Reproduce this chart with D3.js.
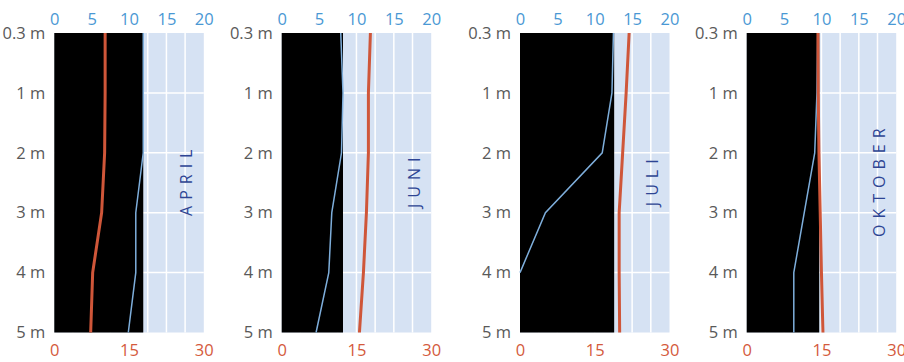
<!DOCTYPE html>
<html>
<head>
<meta charset="utf-8">
<script src="https://cdn.jsdelivr.net/npm/d3@7"></script>
<style>
    body { margin: 0; background: #fff; }
    svg { display: block; }
</style>
</head>
<body>
<div id="chart"></div>
<script>
// Depth categories (y axis) and month panels
const depths = ["0.3 m", "1 m", "2 m", "3 m", "4 m", "5 m"];
const months = ["APRIL", "JUNI", "JULI", "OKTOBER"];

// Blue series, read against the top axis (0-20); null = no value
const blueApril   = [11.9, 11.9, 11.9, 10.9, 10.9, 9.9];
const blueJuni    = [7.9, 8.2, 8.0, 6.7, 6.3, 4.6];
const blueJuli    = [12.5, 12.3, 11.0, 3.4, 0, null];
const blueOktober = [9.5, 9.4, 9.1, 7.7, 6.3, 6.3];

// Red series, read against the bottom axis (0-30)
const redApril   = [10.2, 10.2, 10.1, 9.5, 7.7, 7.3];
const redJuni    = [17.8, 17.4, 17.4, 17.0, 16.4, 15.6];
const redJuli    = [21.9, 21.3, 20.6, 19.9, 19.9, 20.0];
const redOktober = [14.3, 14.35, 14.5, 14.75, 15.0, 15.3];

// Black band width per month (top axis units)
const blackWidth = [11.9, 8.2, 12.6, 9.7];

// Tick values
const topTicks = [0, 5, 10, 15, 20];
const bottomTicks = [0, 15, 30];
const gridTicks = [2.5, 5, 7.5, 10, 12.5, 15, 17.5];

const blueSeries = [blueApril, blueJuni, blueJuli, blueOktober];
const redSeries = [redApril, redJuni, redJuli, redOktober];

const FONT = "'Open Sans', 'Noto Sans', sans-serif";

function styleTicks(axisG, color) {
    axisG.select(".domain").remove();
    axisG.attr("font-family", FONT).attr("font-size", 16.5);
    axisG.selectAll("text").attr("fill", color);
}

function createPanels() {
    const width = 904;
    const height = 362;
    const panelLeft = [54.3, 281.7, 520, 746.7]; // left edge of each plot area
    const plotW = 149.5;
    const top = 33, bottom = 332.5;

    const svg = d3.select("#chart")
        .append("svg")
        .attr("width", width)
        .attr("height", height);

    const y = d3.scalePoint()
        .domain(depths)
        .range([top, bottom]);

    months.forEach((month, i) => {
        const x0 = panelLeft[i];
        const xTop = d3.scaleLinear().domain([0, 20]).range([x0, x0 + plotW]);
        const xBot = d3.scaleLinear().domain([0, 30]).range([x0, x0 + plotW]);

        const g = svg.append("g");

        // background
        g.append("rect")
            .attr("x", x0)
            .attr("y", top)
            .attr("width", plotW)
            .attr("height", bottom - top)
            .attr("fill", "#d6e2f3");

        // white gridlines
        g.selectAll(".vgrid")
            .data(gridTicks)
            .enter()
            .append("line")
            .attr("x1", d => xTop(d))
            .attr("x2", d => xTop(d))
            .attr("y1", top)
            .attr("y2", bottom)
            .attr("stroke", "#fff")
            .attr("stroke-width", 1.5);

        g.selectAll(".hgrid")
            .data(depths.slice(1, -1))
            .enter()
            .append("line")
            .attr("x1", x0)
            .attr("x2", x0 + plotW)
            .attr("y1", d => y(d))
            .attr("y2", d => y(d))
            .attr("stroke", "#fff")
            .attr("stroke-width", 1.5);

        // black band
        g.append("rect")
            .attr("x", x0)
            .attr("y", top)
            .attr("width", xTop(blackWidth[i]) - x0)
            .attr("height", bottom - top)
            .attr("fill", "#000");

        // blue line (top axis)
        const blueLine = d3.line()
            .defined(d => d[1] !== null)
            .x(d => xTop(d[1]))
            .y(d => y(d[0]));
        g.append("path")
            .datum(depths.map((d, k) => [d, blueSeries[i][k]]))
            .attr("d", blueLine)
            .attr("fill", "none")
            .attr("stroke", "#7eaedb")
            .attr("stroke-width", 1.5);

        // red line (bottom axis)
        const redLine = d3.line()
            .x(d => xBot(d[1]))
            .y(d => y(d[0]));
        g.append("path")
            .datum(depths.map((d, k) => [d, redSeries[i][k]]))
            .attr("d", redLine)
            .attr("fill", "none")
            .attr("stroke", "#cf5639")
            .attr("stroke-width", 3);

        // top axis
        const topAxis = g.append("g")
            .attr("transform", `translate(0, ${top - 8})`)
            .call(d3.axisTop(xTop).tickValues(topTicks).tickSize(0).tickPadding(0));
        styleTicks(topAxis, "#4a98d4");

        // bottom axis
        const botAxis = g.append("g")
            .attr("transform", `translate(0, ${bottom + 12})`)
            .call(d3.axisBottom(xBot).tickValues(bottomTicks).tickSize(0).tickPadding(0));
        styleTicks(botAxis, "#d45a3c");

        // left axis
        const leftAxis = g.append("g")
            .attr("transform", `translate(${x0}, 0)`)
            .call(d3.axisLeft(y).tickSize(0).tickPadding(9));
        styleTicks(leftAxis, "#595959");

        // month label
        const lx = x0 + plotW * 0.885;
        const ly = (top + bottom) / 2;
        g.append("text")
            .attr("transform", `translate(${lx}, ${ly}) rotate(-90)`)
            .attr("text-anchor", "middle")
            .attr("font-family", FONT)
            .attr("font-size", 16)
            .attr("letter-spacing", "6px")
            .attr("fill", "#2e4594")
            .attr("dx", 3)
            .attr("dy", "0.35em")
            .text(month);
    });
}

createPanels();
</script>
</body>
</html>
